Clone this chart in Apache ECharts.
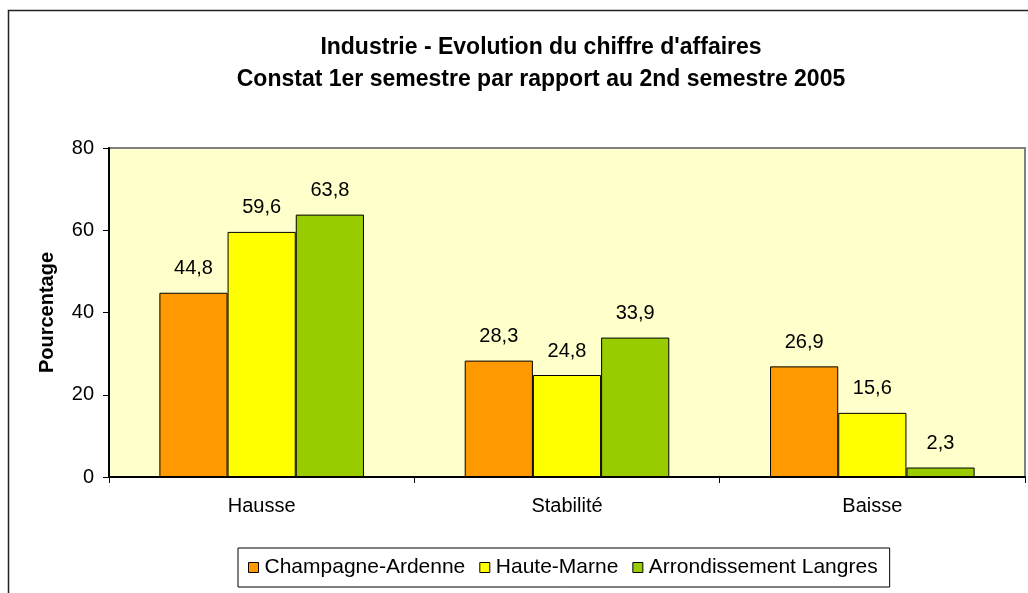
<!DOCTYPE html>
<html>
<head>
<meta charset="utf-8">
<script src="https://cdn.jsdelivr.net/npm/echarts@6/dist/echarts.min.js"></script>
<style>
html,body{margin:0;padding:0;background:#fff;}
#c{width:1028px;height:593px;}
</style>
</head>
<body>
<div id="c"></div>
<script>
var categories = ['Hausse', 'Stabilité', 'Baisse'];
var seriesNames = ['Champagne-Ardenne', 'Haute-Marne', 'Arrondissement Langres'];
var champagneArdenne = [44.8, 28.3, 26.9];
var hauteMarne = [59.6, 24.8, 15.6];
var arrondissementLangres = [63.8, 33.9, 2.3];
var yTicks = [0, 20, 40, 60, 80];
var colors = ['#FF9900', '#FFFF00', '#99CC00'];

var font = '"Liberation Sans", Arial, sans-serif';
var chart = echarts.init(document.getElementById('c'), null, {renderer: 'canvas'});

function mkSeries(name, data, color) {
  return {
    name: name,
    type: 'bar',
    data: data,
    barGap: '0%',
    barCategoryGap: '33%',
    itemStyle: {color: color, borderColor: '#000', borderWidth: 1},
    label: {
      show: true,
      position: 'top',
      distance: 14,
      color: '#000',
      fontFamily: font,
      fontSize: 20,
      formatter: function (p) { return String(p.value).replace('.', ','); }
    }
  };
}

chart.setOption({
  animation: false,
  backgroundColor: '#fff',
  textStyle: {fontFamily: font},
  title: {
    text: 'Industrie - Evolution du chiffre d\'affaires\nConstat 1er semestre par rapport au 2nd semestre 2005',
    left: 536,
    textAlign: 'center',
    top: 27,
    textStyle: {fontFamily: font, fontSize: 23, fontWeight: 'bold', color: '#000', lineHeight: 32}
  },
  graphic: [{
    type: 'rect',
    shape: {x: 8.5, y: 10.5, width: 1040, height: 600},
    style: {fill: 'none', stroke: '#222', lineWidth: 1.5},
    silent: true, z: -10
  }],
  legend: {
    data: seriesNames,
    left: 238,
    top: 548,
    width: 800,
    orient: 'horizontal',
    backgroundColor: '#fff',
    borderColor: '#000',
    borderWidth: 1,
    padding: [9, 12, 9, 10],
    itemGap: 14,
    itemWidth: 10,
    itemHeight: 10,
    icon: 'rect',
    itemStyle: {borderColor: '#000', borderWidth: 1},
    textStyle: {fontFamily: font, fontSize: 21, color: '#000', padding: [0, 0, 0, 1]}
  },
  grid: {
    left: 109, top: 148, right: 3, bottom: 116,
    show: true,
    backgroundColor: '#FFFFCC',
    borderColor: '#808080',
    borderWidth: 2
  },
  xAxis: {
    type: 'category',
    data: categories,
    axisLine: {lineStyle: {color: '#000', width: 2}},
    axisTick: {show: true, length: 6, alignWithLabel: false, lineStyle: {color: '#000'}},
    axisLabel: {fontFamily: font, fontSize: 20, color: '#000', margin: 19},
    splitLine: {show: false}
  },
  yAxis: {
    type: 'value',
    min: yTicks[0],
    max: yTicks[yTicks.length - 1],
    interval: 20,
    name: 'Pourcentage',
    nameLocation: 'middle',
    nameGap: 52,
    nameRotate: 90,
    nameTextStyle: {fontFamily: font, fontSize: 20, fontWeight: 'bold', color: '#000'},
    axisLine: {show: true, lineStyle: {color: '#000', width: 2}},
    axisTick: {show: true, length: 6, lineStyle: {color: '#000'}},
    axisLabel: {fontFamily: font, fontSize: 20, color: '#000', margin: 15},
    splitLine: {show: false}
  },
  series: [
    mkSeries(seriesNames[0], champagneArdenne, colors[0]),
    mkSeries(seriesNames[1], hauteMarne, colors[1]),
    mkSeries(seriesNames[2], arrondissementLangres, colors[2])
  ]
});
</script>
</body>
</html>
